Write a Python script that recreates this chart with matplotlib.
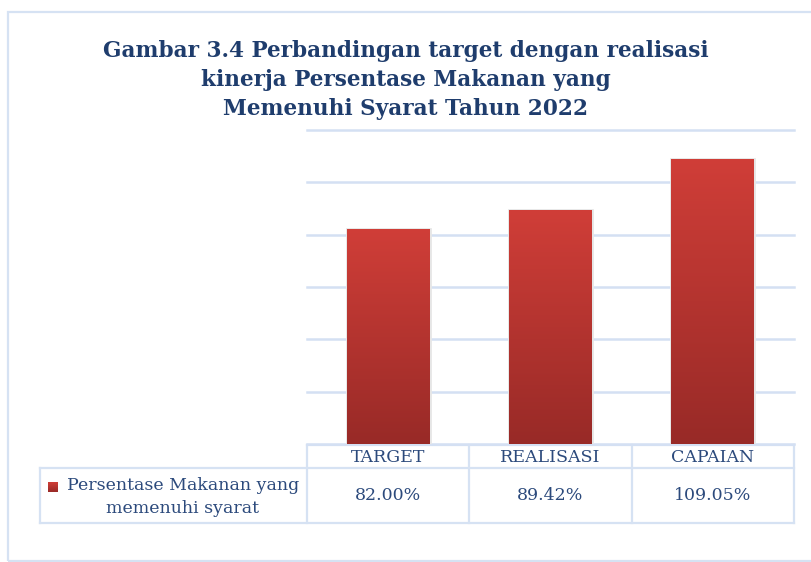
#!/usr/bin/env python3
"""Bar chart with data table: target vs realisasi, makanan memenuhi syarat 2022."""

import numpy as np
import matplotlib

matplotlib.use("Agg")

from matplotlib import pyplot as plt
from matplotlib.patches import Rectangle

categories = ["TARGET", "REALISASI", "CAPAIAN"]
values = [82.00, 89.42, 109.05]
series_name = "Persentase Makanan yang\nmemenuhi syarat"
title_lines = [
    "Gambar 3.4 Perbandingan target dengan realisasi",
    "kinerja Persentase Makanan yang",
    "Memenuhi Syarat Tahun 2022",
]
y_max = 120
y_step = 20

WIDTH, HEIGHT = 811, 562
DPI = 100
BORDER = "#d6e2f3"
GRID = "#d4e0f3"
TITLE_INK = "#1f3d6d"
TABLE_INK = "#2c4a7c"
BAR_TOP = "#d03e38"
BAR_BOTTOM = "#982a27"


def from_top(y):
    return HEIGHT - y


def gradient_fill(ax, patch, extent):
    grad = np.linspace(0, 1, 256).reshape(-1, 1)
    cmap = matplotlib.colors.LinearSegmentedColormap.from_list(
        "bar", [BAR_BOTTOM, BAR_TOP]
    )
    im = ax.imshow(
        grad,
        cmap=cmap,
        extent=extent,
        origin="lower",
        aspect="auto",
        zorder=patch.get_zorder() + 0.1,
        interpolation="bicubic",
    )
    im.set_clip_path(patch)


def main():
    plt.rcParams["font.family"] = "DejaVu Serif"
    fig = plt.figure(figsize=(WIDTH / DPI, HEIGHT / DPI), dpi=DPI, facecolor="white")

    # Pixel-space overlay for the frame, title and table.
    over = fig.add_axes([0, 0, 1, 1], facecolor="none")
    over.set_xlim(0, WIDTH)
    over.set_ylim(0, HEIGHT)
    over.set_axis_off()

    over.add_patch(Rectangle((8, from_top(561)), 820, 549, fill=False,
                             edgecolor=BORDER, linewidth=1.6))

    for i, line in enumerate(title_lines):
        over.text(406, from_top(51 + 29 * i), line, ha="center", va="center",
                  fontsize=15.6, fontweight="bold", color=TITLE_INK)

    # Plot area
    left, right, top, bottom = 307, 794, 130, 444
    ax = fig.add_axes([left / WIDTH, from_top(bottom) / HEIGHT,
                       (right - left) / WIDTH, (bottom - top) / HEIGHT])
    ax.set_facecolor("none")
    x = np.arange(len(categories))
    bars = ax.bar(x, values, width=0.51, color=BAR_BOTTOM, edgecolor="#e6e6e6",
                  linewidth=2.0, zorder=2)
    for rect in bars:
        x0, y0 = rect.get_x(), rect.get_y()
        gradient_fill(ax, rect, [x0, x0 + rect.get_width(), y0, y0 + rect.get_height()])
    ax.set_xlim(-0.5, len(categories) - 0.5)
    ax.set_ylim(0, y_max)
    ax.set_yticks(np.arange(0, y_max + 1, y_step))
    ax.yaxis.grid(True, color=GRID, linewidth=1.8)
    for gl in ax.get_ygridlines():
        gl.set_clip_on(False)
    ax.set_axisbelow(True)
    ax.tick_params(left=False, bottom=False, labelleft=False, labelbottom=False)
    for s in ax.spines.values():
        s.set_visible(False)

    # Data table below the plot
    col_x = [left + (right - left) * i / len(categories) for i in range(len(categories) + 1)]
    head_top, head_bot, row_bot, leg_left = 445, 468, 523, 40
    lw = 1.6
    over.plot([col_x[0], col_x[-1]], [from_top(head_top)] * 2, color=BORDER, lw=lw)
    over.plot([leg_left, col_x[-1]], [from_top(head_bot)] * 2, color=BORDER, lw=lw)
    over.plot([leg_left, col_x[-1]], [from_top(row_bot)] * 2, color=BORDER, lw=lw)
    for cx in col_x:
        over.plot([cx, cx], [from_top(head_top), from_top(row_bot)], color=BORDER, lw=lw)
    over.plot([leg_left, leg_left], [from_top(head_bot), from_top(row_bot)],
              color=BORDER, lw=lw)

    for i, (cat, val) in enumerate(zip(categories, values)):
        cx = (col_x[i] + col_x[i + 1]) / 2
        over.text(cx, from_top(457), cat, ha="center", va="center",
                  fontsize=12.5, color=TABLE_INK)
        over.text(cx, from_top(496), f"{val:.2f}%", ha="center", va="center",
                  fontsize=12.5, color=TABLE_INK)

    key = Rectangle((48, from_top(492)), 10, 10, facecolor=BAR_TOP,
                    edgecolor="none")
    over.add_patch(key)
    gradient_fill(over, key, [48, 58, from_top(492), from_top(482)])
    over.set_xlim(0, WIDTH)
    over.set_ylim(0, HEIGHT)
    over.text(183, from_top(497), series_name, ha="center", va="center",
              fontsize=12.5, color=TABLE_INK, linespacing=1.4)

    fig.savefig("out.png", dpi=DPI, facecolor="white")


if __name__ == "__main__":
    main()
